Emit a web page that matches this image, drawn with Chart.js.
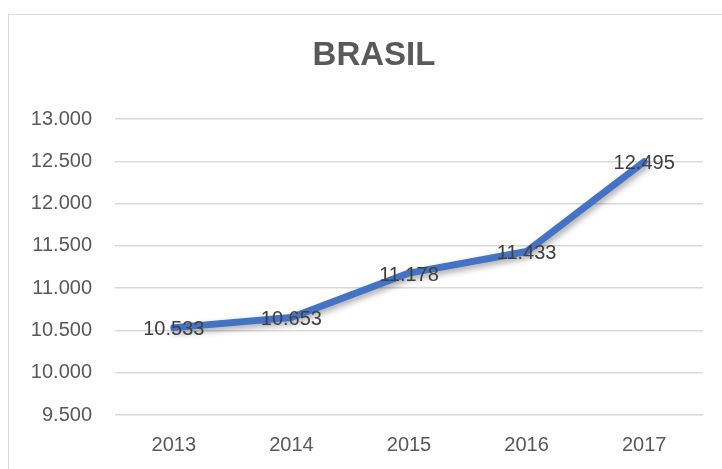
<!DOCTYPE html>
<html>
<head>
<meta charset="utf-8">
<script src="https://cdn.jsdelivr.net/npm/chart.js@4/dist/chart.umd.min.js"></script>
<style>
  html, body { margin: 0; padding: 0; background: #fff; overflow: hidden; }
  .frame { position: absolute; left: 8px; top: 14px; width: 760px; height: 500px; border: 1.5px solid #d9d9d9; }
  .wrap { position: absolute; left: 0; top: 0; width: 722px; height: 469px; }
</style>
</head>
<body>
<div class="frame"></div>
<div class="wrap"><canvas id="brasilChart" width="722" height="469"></canvas></div>
<script>
const years = ['2013', '2014', '2015', '2016', '2017'];
const values = [10533, 10653, 11178, 11433, 12495];
const yMin = 9500;
const yMax = 13000;
const yStep = 500;
const chartTitle = 'BRASIL';

const fontFamily = "'Liberation Sans', Arial, sans-serif";

const formatNum = (v) => v.toLocaleString('pt-BR', { minimumFractionDigits: 0 });

// title sits centred on the outer frame, not on the canvas
const frameTitle = {
    id: 'frameTitle',
    afterDraw(chart) {
        const ctx = chart.ctx;
        ctx.save();
        ctx.font = `bold 33px ${fontFamily}`;
        ctx.fillStyle = '#595959';
        ctx.textAlign = 'center';
        ctx.textBaseline = 'middle';
        ctx.fillText(chartTitle, 374, 56);
        ctx.restore();
    }
};

// soft shadow under the line, like the spreadsheet style
const lineShadow = {
    id: 'lineShadow',
    beforeDatasetDraw(chart) {
        const ctx = chart.ctx;
        ctx.save();
        ctx.shadowColor = 'rgba(0, 0, 0, 0.35)';
        ctx.shadowBlur = 6;
        ctx.shadowOffsetX = 2;
        ctx.shadowOffsetY = 3;
    },
    afterDatasetDraw(chart) {
        chart.ctx.restore();
    }
};

// value labels centred on each point
const pointLabels = {
    id: 'pointLabels',
    afterDatasetsDraw(chart) {
        const ctx = chart.ctx;
        const meta = chart.getDatasetMeta(0);
        ctx.save();
        ctx.font = `20px ${fontFamily}`;
        ctx.fillStyle = '#404040';
        ctx.textAlign = 'center';
        ctx.textBaseline = 'middle';
        meta.data.forEach((pt, i) => {
            ctx.fillText(formatNum(values[i]), pt.x, pt.y + 2);
        });
        ctx.restore();
    }
};

const ctx = document.getElementById('brasilChart').getContext('2d');
new Chart(ctx, {
    type: 'line',
    data: {
        labels: years,
        datasets: [{
            label: chartTitle,
            data: values,
            borderColor: '#4472C4',
            borderWidth: 7,
            borderJoinStyle: 'round',
            borderCapStyle: 'round',
            pointRadius: 0,
            tension: 0,
            fill: false
        }]
    },
    options: {
        responsive: false,
        animation: false,
        layout: { padding: { left: 0, right: 19, top: 119, bottom: 0 } },
        plugins: {
            legend: { display: false },
            tooltip: { enabled: false },
            title: { display: false }
        },
        scales: {
            x: {
                offset: true,
                grid: { display: false, drawTicks: false },
                border: { display: false },
                ticks: {
                    color: '#595959',
                    font: { family: fontFamily, size: 20 },
                    padding: 18
                },
                afterFit(scale) { scale.height = 54; }
            },
            y: {
                min: yMin,
                max: yMax,
                grid: { color: '#d9d9d9', lineWidth: 1.5, drawTicks: false },
                border: { display: false },
                ticks: {
                    stepSize: yStep,
                    color: '#595959',
                    font: { family: fontFamily, size: 20 },
                    padding: 23,
                    callback: (v) => formatNum(v)
                },
                afterFit(scale) { scale.width = 115; }
            }
        }
    },
    plugins: [lineShadow, pointLabels, frameTitle]
});
</script>
</body>
</html>
